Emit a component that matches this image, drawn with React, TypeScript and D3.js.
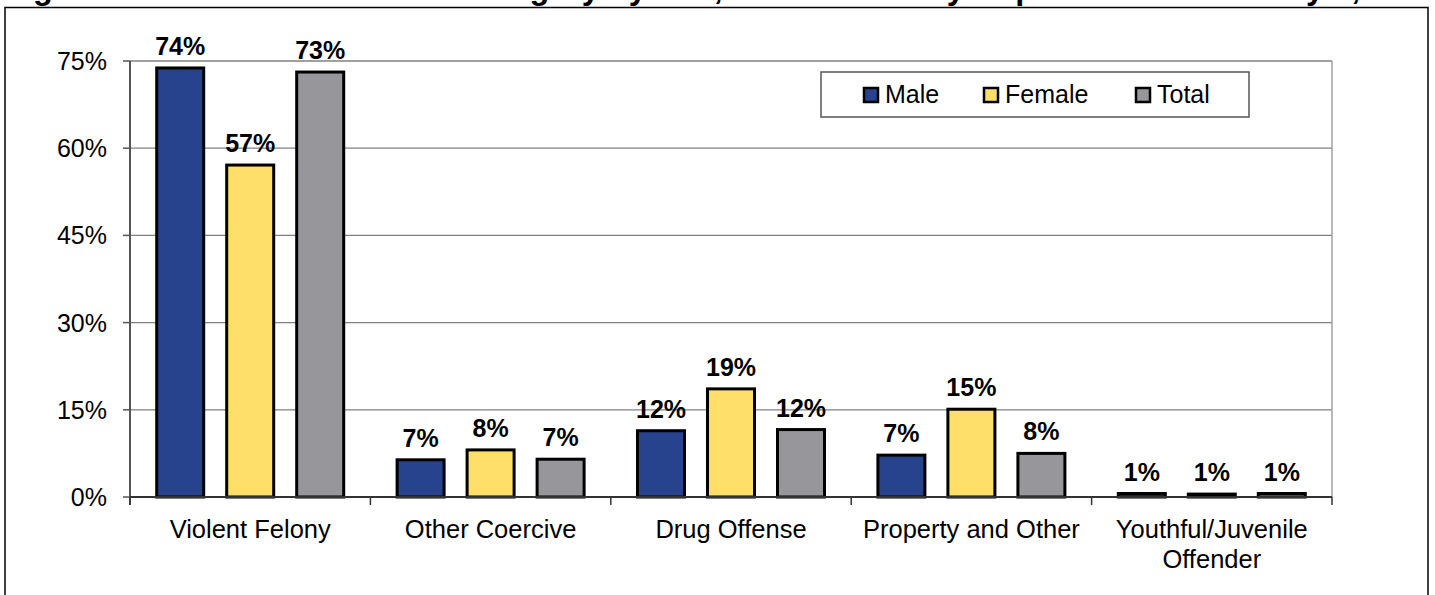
import React from 'react';
import * as d3 from 'd3';

const title = 'Figure 5: Commitment Crime Category by Sex, Under Custody Population on January 1, 2009';
const categories = ['Violent Felony', 'Other Coercive', 'Drug Offense', 'Property and Other', 'Youthful/Juvenile Offender'];
const categoryLines = [['Violent Felony'], ['Other Coercive'], ['Drug Offense'], ['Property and Other'], ['Youthful/Juvenile', 'Offender']];
const seriesNames = ['Male', 'Female', 'Total'];
const maleValues = [73.8, 6.4, 11.4, 7.2, 0.6];
const femaleValues = [57.1, 8.1, 18.6, 15.1, 0.5];
const totalValues = [73.1, 6.5, 11.6, 7.5, 0.6];
const maleLabels = ['74%', '7%', '12%', '7%', '1%'];
const femaleLabels = ['57%', '8%', '19%', '15%', '1%'];
const totalLabels = ['73%', '7%', '12%', '8%', '1%'];
const yTicks = [0, 15, 30, 45, 60, 75];

const colors = ['#27438E', '#FDDF69', '#97979B'];

const W = 1435;
const H = 595;
const plot = { left: 130, right: 1332, top: 61, bottom: 497 };
const font = 'Arial, "Liberation Sans", sans-serif';

export default function App() {
  const values = [maleValues, femaleValues, totalValues];
  const labels = [maleLabels, femaleLabels, totalLabels];

  const x0 = d3.scaleBand<string>().domain(categories).range([plot.left, plot.right]).padding(0);
  const bw = x0.bandwidth();
  const groupW = 190;
  const x1 = d3.scaleBand<string>()
    .domain(seriesNames)
    .range([(bw - groupW) / 2, (bw + groupW) / 2])
    .paddingInner(20 / 70)
    .paddingOuter(0);
  const y = d3.scaleLinear().domain([0, 75]).range([plot.bottom, plot.top]);

  const boundaries = categories.map(c => x0(c)!).concat([plot.right]);

  return (
    <svg width={W} height={H} style={{ position: 'absolute', left: 0, top: 0, background: '#fff' }} fontFamily={font}>
      <rect x={0} y={0} width={W} height={H} fill="#fff" />
      {/* title, mostly cut off by the top edge like the source */}
      <text x={4} y={-1} fontSize={32.5} fontWeight="bold" fill="#000">{title}</text>
      {/* outer chart border */}
      <rect x={5} y={7.5} width={1423} height={H} fill="none" stroke="#000" strokeWidth={1.5} />

      {/* gridlines */}
      {yTicks.map(t => (
        <line key={'g' + t} x1={plot.left} x2={plot.right} y1={y(t)} y2={y(t)} stroke="#808080" strokeWidth={1.3} />
      ))}
      {/* plot right border */}
      <line x1={plot.right} x2={plot.right} y1={plot.top} y2={plot.bottom} stroke="#a0a0a0" strokeWidth={1.5} />

      {/* y axis */}
      <line x1={plot.left} x2={plot.left} y1={plot.top} y2={plot.bottom + 8} stroke="#555" strokeWidth={2} />
      {yTicks.map(t => (
        <g key={'t' + t}>
          <line x1={plot.left - 7} x2={plot.left} y1={y(t)} y2={y(t)} stroke="#555" strokeWidth={1.5} />
          <text x={107} y={y(t) + 9} textAnchor="end" fontSize={25} fill="#000">{t}%</text>
        </g>
      ))}

      {/* bars */}
      {categories.map((c, ci) => (
        <g key={c} transform={`translate(${x0(c)},0)`}>
          {seriesNames.map((s, si) => {
            const v = values[si][ci];
            const bx = x1(s)!;
            return (
              <g key={s}>
                <rect x={bx + 1.5} y={y(v)} width={x1.bandwidth() - 3} height={y(0) - y(v)}
                  fill={colors[si]} stroke="#000" strokeWidth={3} />
                <text x={bx + x1.bandwidth() / 2} y={y(v) - 13} textAnchor="middle" fontSize={25} fontWeight="bold" fill="#000">
                  {labels[si][ci]}
                </text>
              </g>
            );
          })}
        </g>
      ))}

      {/* x axis */}
      <line x1={plot.left} x2={plot.right} y1={plot.bottom} y2={plot.bottom} stroke="#333" strokeWidth={2} />
      {boundaries.map((b, i) => (
        <line key={'b' + i} x1={b} x2={b} y1={plot.bottom} y2={plot.bottom + 8} stroke="#333" strokeWidth={1.5} />
      ))}
      {categories.map((c, ci) => (
        <text key={'l' + c} x={x0(c)! + bw / 2} y={538} textAnchor="middle" fontSize={25.5} fill="#000">
          {categoryLines[ci].map((ln, li) => (
            <tspan key={li} x={x0(c)! + bw / 2} dy={li === 0 ? 0 : 30}>{ln}</tspan>
          ))}
        </text>
      ))}

      {/* legend */}
      <rect x={821} y={72} width={428} height={45} fill="#fff" stroke="#555" strokeWidth={1.5} />
      {seriesNames.map((s, si) => {
        const lx = [864, 984, 1136][si];
        return (
          <g key={'leg' + s}>
            <rect x={lx} y={88} width={14} height={14} fill={colors[si]} stroke="#000" strokeWidth={2.5} />
            <text x={lx + 21} y={103} fontSize={25} fill="#000">{s}</text>
          </g>
        );
      })}
    </svg>
  );
}
